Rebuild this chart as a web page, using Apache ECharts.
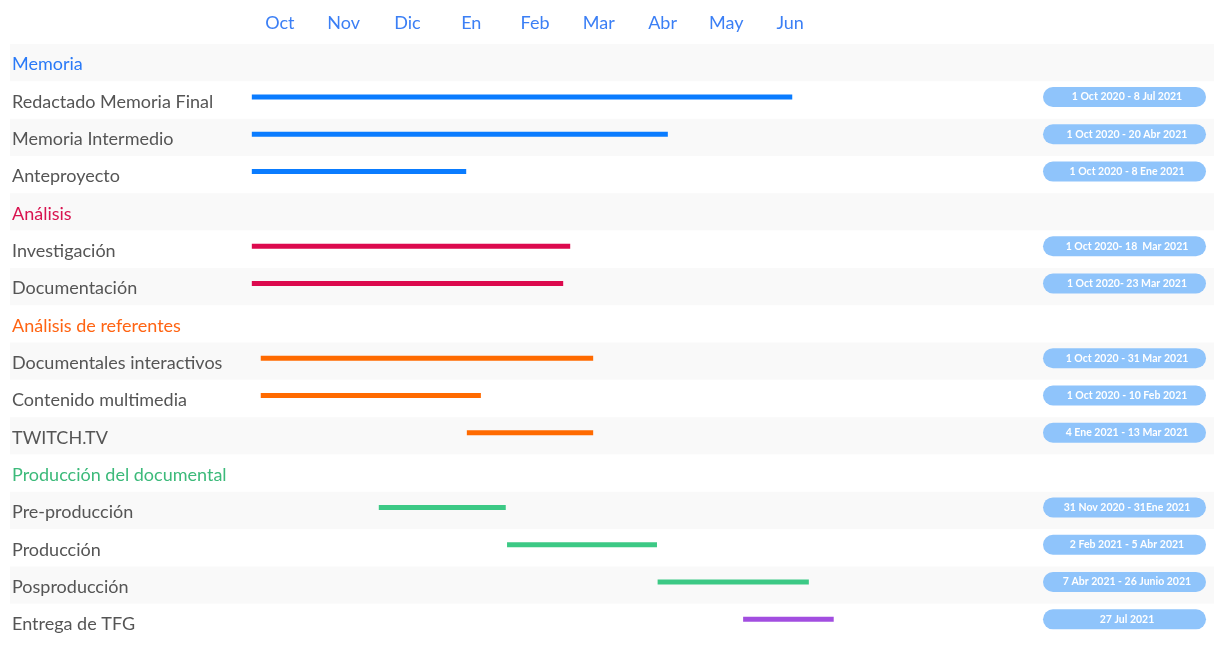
<!DOCTYPE html>
<html>
<head>
<meta charset="utf-8">
<script src="https://cdn.jsdelivr.net/npm/echarts@6/dist/echarts.min.js"></script>
<style>
  html, body { margin: 0; padding: 0; background: #fff; }
  #main { width: 1214px; height: 650px; }
</style>
</head>
<body>
<div id="main"></div>
<script>
// meses de la cabecera
var months = ['Oct', 'Nov', 'Dic', 'En', 'Feb', 'Mar', 'Abr', 'May', 'Jun'];

// filas del diagrama, de arriba a abajo
var rows = [
    'Memoria', 'Redactado Memoria Final', 'Memoria Intermedio', 'Anteproyecto',
    'Análisis', 'Investigación', 'Documentación',
    'Análisis de referentes', 'Documentales interactivos', 'Contenido multimedia', 'TWITCH.TV',
    'Producción del documental', 'Pre-producción', 'Producción', 'Posproducción', 'Entrega de TFG'
];
var sections = ['Memoria', 'Análisis', 'Análisis de referentes', 'Producción del documental'];

// tareas (en meses desde el 1 de octubre 2020, tal como se dibujan)
var tasks = [
    'Redactado Memoria Final', 'Memoria Intermedio', 'Anteproyecto',
    'Investigación', 'Documentación',
    'Documentales interactivos', 'Contenido multimedia', 'TWITCH.TV',
    'Pre-producción', 'Producción', 'Posproducción', 'Entrega de TFG'
];
var taskGroup = [0, 0, 0, 1, 1, 2, 2, 2, 3, 3, 3, 4];
var taskStart = [0.06, 0.06, 0.06, 0.06, 0.06, 0.2, 0.2, 3.43, 2.05, 4.06, 6.42, 7.76];
var taskEnd = [8.53, 6.58, 3.42, 5.05, 4.94, 5.41, 3.65, 5.41, 4.04, 6.41, 8.79, 9.18];
var taskDates = [
    '1 Oct 2020 - 8 Jul 2021', '1 Oct 2020 - 20 Abr 2021', '1 Oct 2020 - 8 Ene 2021',
    '1 Oct 2020- 18  Mar 2021', '1 Oct 2020- 23 Mar 2021',
    '1 Oct 2020 - 31 Mar 2021', '1 Oct 2020 - 10 Feb 2021', '4 Ene 2021 - 13 Mar 2021',
    '31 Nov 2020 - 31Ene 2021', '2 Feb 2021 - 5 Abr 2021', '7 Abr 2021 - 26 Junio 2021', '27 Jul 2021'
];

var groupColors = ['#0a7cff', '#dc0a4e', '#ff6a00', '#3cc985', '#a24ee0'];
var headerColors = ['#2a7af7', '#d8134f', '#ff6413', '#3cba7a'];

var barData = [];
for (var i = 0; i < tasks.length; i++) {
    barData.push({
        value: [taskStart[i], taskEnd[i], rows.indexOf(tasks[i]), taskDates[i]],
        itemStyle: { color: groupColors[taskGroup[i]] }
    });
}

var rich = { t: { color: '#555', fontSize: 18, fontFamily: 'Lato', padding: [4, 0, 0, 0] } };
for (var k = 0; k < sections.length; k++) {
    rich['s' + k] = { color: headerColors[k], fontSize: 18, fontFamily: 'Lato', padding: [4, 0, 0, 0] };
}

var chart = echarts.init(document.getElementById('main'));
var option = {
    animation: false,
    grid: [
        { left: 10, right: 0, top: 44, height: 597 },
        { left: 248, width: 574, top: 44, height: 597 }
    ],
    xAxis: [
        { gridIndex: 0, type: 'value', min: -3.73, max: 15.14, show: false },
        {
            gridIndex: 1, type: 'category', data: months, position: 'top',
            axisLine: { show: false }, axisTick: { show: false }, splitLine: { show: false },
            axisLabel: { color: '#3b7ff5', fontSize: 18, fontFamily: 'Lato', margin: 12, interval: 0 }
        }
    ],
    yAxis: [
        {
            gridIndex: 0, type: 'category', data: rows, inverse: true,
            axisLine: { show: false }, axisTick: { show: false },
            splitArea: { show: true, areaStyle: { color: ['#f9f9f9', '#ffffff'] } },
            axisLabel: {
                inside: true, margin: 2, align: 'left', interval: 0,
                formatter: function (v) {
                    var s = sections.indexOf(v);
                    return s >= 0 ? '{s' + s + '|' + v + '}' : '{t|' + v + '}';
                },
                rich: rich
            }
        },
        { gridIndex: 1, type: 'value', show: false }
    ],
    series: [
        {
            type: 'custom',
            xAxisIndex: 0, yAxisIndex: 0,
            encode: { x: [0, 1], y: 2 },
            data: barData,
            renderItem: function (params, api) {
                var s = api.coord([api.value(0), api.value(2)]);
                var e = api.coord([api.value(1), api.value(2)]);
                return {
                    type: 'rect',
                    shape: { x: s[0], y: s[1] - 5.5, width: e[0] - s[0], height: 5 },
                    style: { fill: api.visual('color') }
                };
            }
        },
        {
            type: 'custom',
            xAxisIndex: 0, yAxisIndex: 0,
            encode: { x: 0, y: 2 },
            data: barData.map(function (d) { return d.value; }),
            clip: false,
            renderItem: function (params, api) {
                var c = api.coord([0, api.value(2)]);
                var cs = params.coordSys;
                var x0 = cs.x + cs.width - 171;
                return {
                    type: 'group',
                    children: [
                        {
                            type: 'rect',
                            shape: { x: x0, y: c[1] - 13, width: 163, height: 20, r: 10 },
                            style: { fill: '#8fc4fb' }
                        },
                        {
                            type: 'text',
                            style: {
                                x: x0 + 84, y: c[1] - 3, text: api.value(3),
                                fill: '#fff', fontSize: 10.5, fontWeight: 'bold', fontFamily: 'Lato',
                                align: 'center', verticalAlign: 'middle'
                            }
                        }
                    ]
                };
            }
        }
    ]
};
chart.setOption(option);
window.addEventListener('resize', function () {
    chart.resize();
});
</script>
</body>
</html>
